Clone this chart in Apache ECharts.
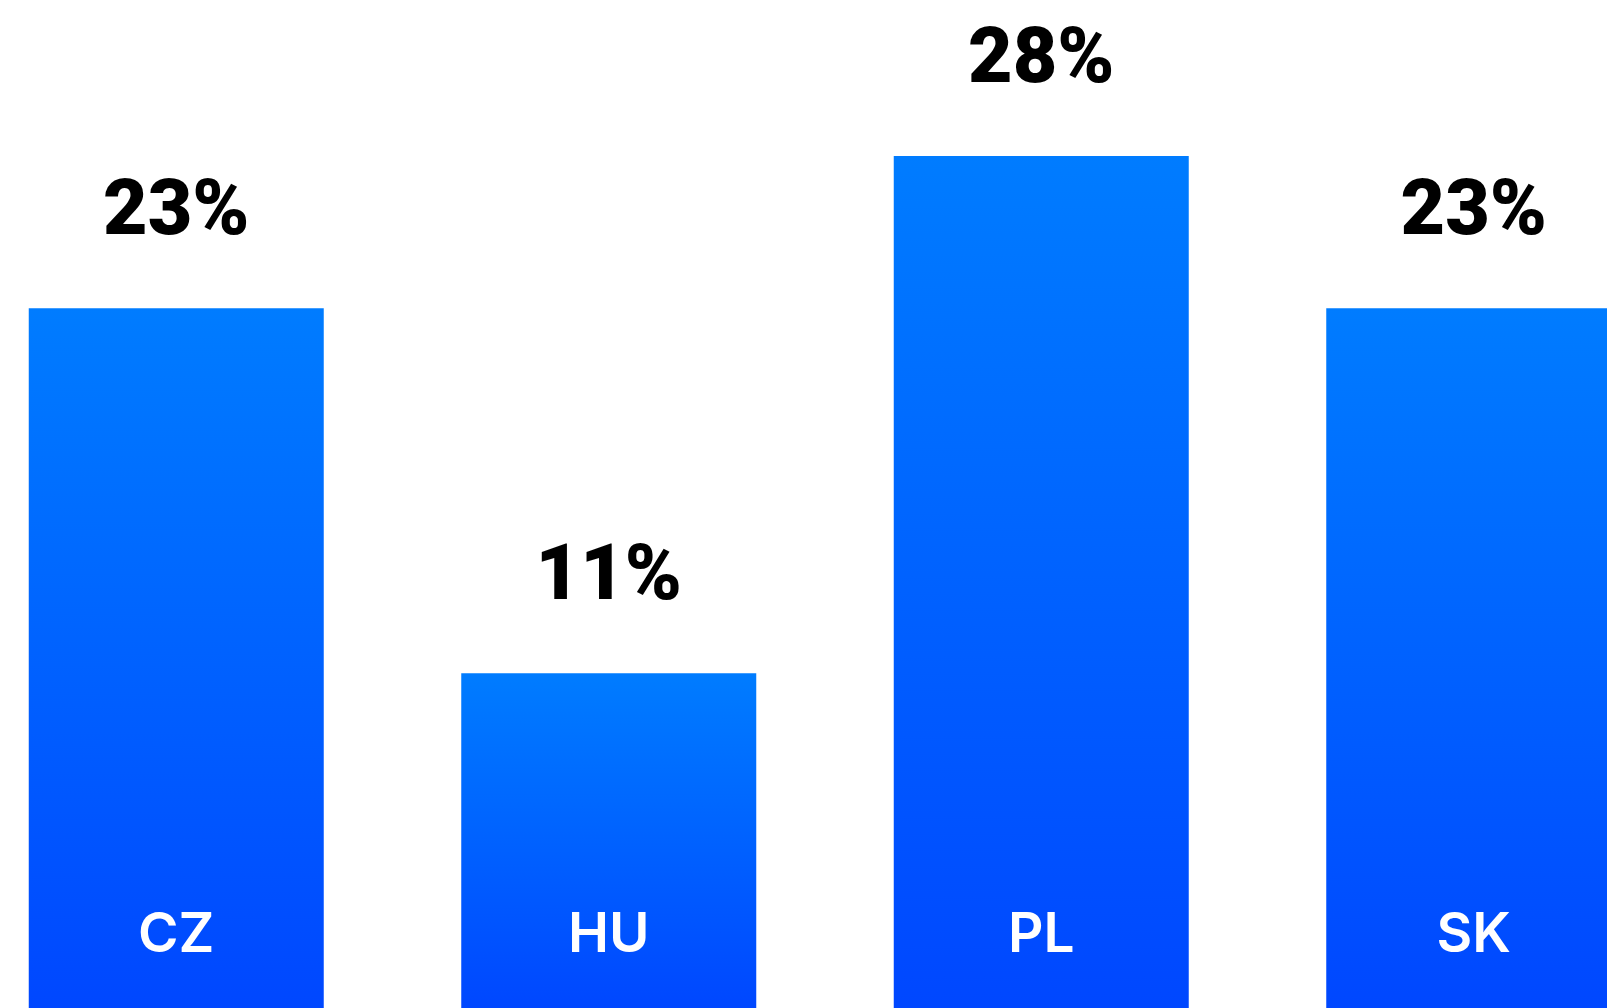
<!DOCTYPE html>
<html>
<head>
<meta charset="utf-8">
<script src="https://cdn.jsdelivr.net/npm/echarts@6/dist/echarts.min.js"></script>
<style>
  html, body { margin: 0; padding: 0; background: #fff; overflow: hidden; }
  /* 图表比窗口宽，左右两侧被裁掉 */
  #chart { width: 1730px; height: 1008px; margin-left: -40px; }
</style>
</head>
<body>
<div id="chart"></div>
<script>
// 国家与占比
const countries = ['CZ', 'HU', 'PL', 'SK']
const shares = [23, 11, 28, 23]

const chart = echarts.init(document.getElementById('chart'))

const option = {
  animation: false,
  grid: {
    left: 0,
    right: 0,
    top: 156,
    bottom: 0
  },
  xAxis: {
    type: 'category',
    data: countries,
    axisLine: { show: false },
    axisTick: { show: false },
    axisLabel: {
      inside: true,
      margin: 73,
      verticalAlign: 'middle',
      color: '#fff',
      fontFamily: 'Inter',
      fontWeight: 600,
      fontSize: 55
    },
    z: 10
  },
  yAxis: {
    type: 'value',
    min: 0,
    max: 28,
    show: false,
    splitLine: { show: false }
  },
  series: [{
    type: 'bar',
    data: shares,
    barWidth: 295,
    itemStyle: {
      color: new echarts.graphic.LinearGradient(0, 0, 0, 1, [
        { offset: 0, color: '#007cff' },
        { offset: 1, color: '#0047ff' }
      ])
    },
    label: {
      show: true,
      position: 'top',
      distance: 55,
      formatter: '{c}%',
      color: '#000',
      fontFamily: 'Roboto',
      fontWeight: 900,
      fontSize: 77,
      lineHeight: 77
    }
  }]
}

chart.setOption(option)
</script>
</body>
</html>
